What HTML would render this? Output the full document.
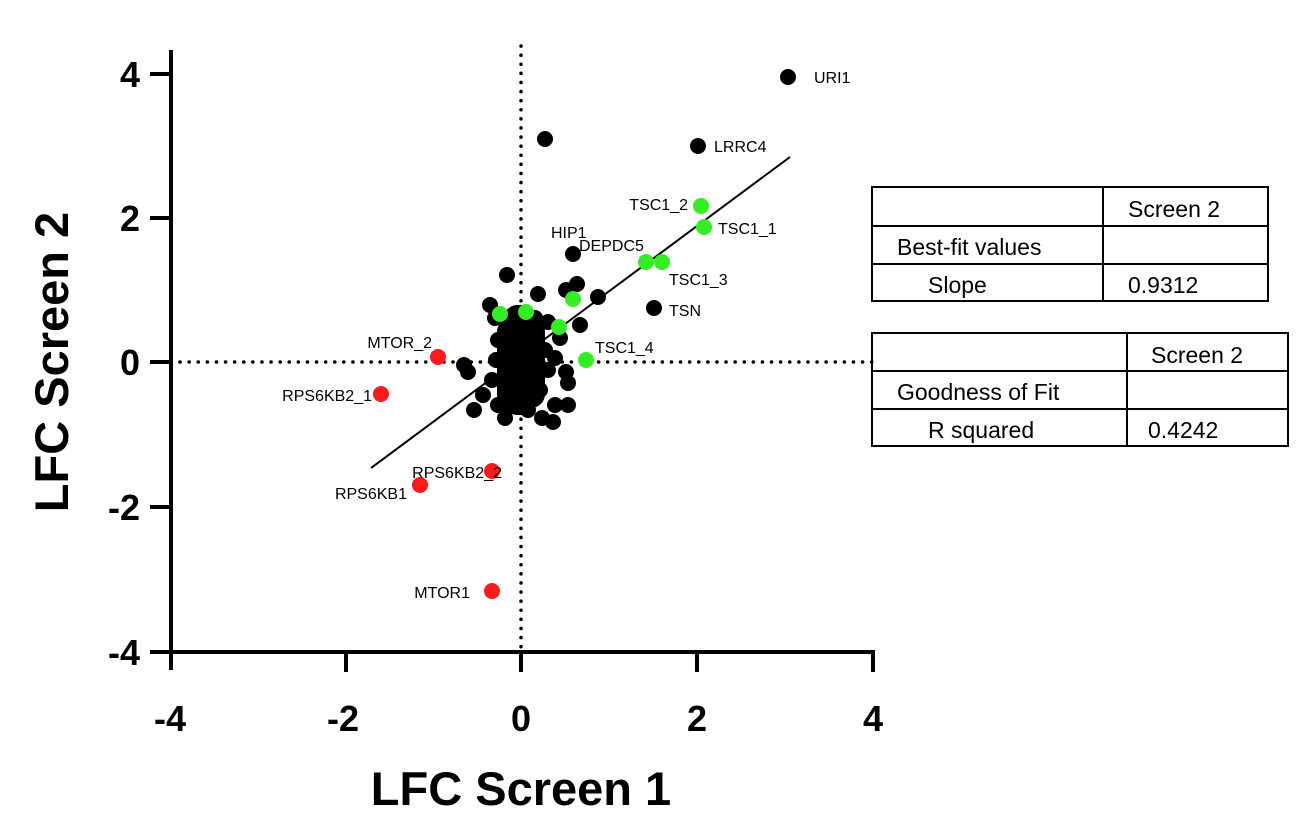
<!DOCTYPE html>
<html><head><meta charset="utf-8"><style>
html,body{margin:0;padding:0;background:#fff;}
svg{display:block;font-family:"Liberation Sans",Arial,sans-serif;}
</style></head><body>
<svg width="1296" height="838" viewBox="0 0 1296 838" xmlns="http://www.w3.org/2000/svg">
<rect width="1296" height="838" fill="#fff"/>
<line x1="521" y1="46" x2="521" y2="650" stroke="#000" stroke-width="3.5" stroke-dasharray="0.1 9" stroke-linecap="round"/>
<line x1="180" y1="362" x2="872" y2="362" stroke="#000" stroke-width="3.5" stroke-dasharray="0.1 9" stroke-linecap="round"/>
<g stroke="#000" stroke-width="4">
<line x1="171" y1="50" x2="171" y2="670"/>
<line x1="150" y1="652" x2="875" y2="652"/>
<line x1="150" y1="74" x2="171" y2="74"/>
<line x1="150" y1="218" x2="171" y2="218"/>
<line x1="150" y1="362" x2="171" y2="362"/>
<line x1="150" y1="507" x2="171" y2="507"/>
<line x1="346" y1="652" x2="346" y2="672"/>
<line x1="521" y1="652" x2="521" y2="672"/>
<line x1="697" y1="652" x2="697" y2="672"/>
<line x1="873" y1="652" x2="873" y2="672"/>
</g>
<g font-size="36" font-weight="bold" text-anchor="end">
<text x="140" y="87">4</text>
<text x="140" y="231">2</text>
<text x="140" y="375">0</text>
<text x="140" y="520">-2</text>
<text x="140" y="665">-4</text>
</g>
<g font-size="36" font-weight="bold" text-anchor="middle">
<text x="170" y="731">-4</text>
<text x="343" y="731">-2</text>
<text x="521" y="731">0</text>
<text x="697" y="731">2</text>
<text x="873" y="731">4</text>
</g>
<text x="521" y="805" font-size="47" font-weight="bold" text-anchor="middle">LFC Screen 1</text>
<text transform="translate(68,362) rotate(-90)" font-size="47" font-weight="bold" text-anchor="middle">LFC Screen 2</text>
<line x1="371" y1="468" x2="790" y2="157" stroke="#000" stroke-width="2"/>
<g fill="#000">
<circle cx="545" cy="139" r="8"/><circle cx="788" cy="77" r="8"/><circle cx="698" cy="146" r="8"/>
<circle cx="573" cy="254" r="8"/><circle cx="577" cy="284" r="8"/><circle cx="566" cy="290" r="8"/>
<circle cx="598" cy="297" r="8"/><circle cx="538" cy="294" r="8"/><circle cx="507" cy="275" r="8"/>
<circle cx="654" cy="308" r="8"/><circle cx="580" cy="325" r="8"/><circle cx="490" cy="305" r="8"/>
<circle cx="560" cy="338" r="8"/><circle cx="464" cy="365" r="8"/><circle cx="468" cy="372" r="8"/>
<circle cx="474" cy="410" r="8"/><circle cx="483" cy="395" r="8"/><circle cx="492" cy="380" r="8"/>
<circle cx="566" cy="372" r="8"/><circle cx="568" cy="383" r="8"/><circle cx="555" cy="405" r="8"/>
<circle cx="568" cy="405" r="8"/><circle cx="542" cy="418" r="8"/><circle cx="553" cy="422" r="8"/>
<circle cx="505" cy="418" r="8"/><circle cx="498" cy="405" r="8"/><circle cx="548" cy="322" r="8"/>
<circle cx="495" cy="318" r="8"/><circle cx="513" cy="315" r="8"/><circle cx="535" cy="318" r="8"/>
<circle cx="525" cy="330" r="8"/><circle cx="545" cy="350" r="8"/><circle cx="548" cy="370" r="8"/>
<circle cx="540" cy="390" r="8"/><circle cx="498" cy="340" r="8"/><circle cx="496" cy="360" r="8"/>
<circle cx="520" cy="400" r="8"/><circle cx="528" cy="410" r="8"/><circle cx="510" cy="405" r="8"/>
<circle cx="532" cy="345" r="8"/><circle cx="555" cy="358" r="8"/><circle cx="535" cy="370" r="8"/>
<rect x="497" y="318" width="48" height="90" rx="14"/>
<rect x="505" y="305" width="30" height="110" rx="12"/>
</g>
<g fill="#ff1a1a">
<circle cx="438" cy="357" r="8"/><circle cx="381" cy="394" r="8"/><circle cx="492" cy="471" r="8"/>
<circle cx="420" cy="485" r="8"/><circle cx="492" cy="591" r="8"/>
</g>
<g fill="#33ee22">
<circle cx="701" cy="206" r="8"/><circle cx="704" cy="227" r="8"/><circle cx="646" cy="262" r="8"/>
<circle cx="662" cy="262" r="8"/><circle cx="573" cy="299" r="8"/><circle cx="586" cy="360" r="8"/>
<circle cx="500" cy="314" r="8"/><circle cx="526" cy="312" r="8"/><circle cx="559" cy="327" r="8"/>
</g>
<g font-size="16">
<text x="814" y="83">URI1</text>
<text x="714" y="152">LRRC4</text>
<text x="688" y="210" text-anchor="end">TSC1_2</text>
<text x="718" y="234">TSC1_1</text>
<text x="551" y="238">HIP1</text>
<text x="579" y="251">DEPDC5</text>
<text x="669" y="285">TSC1_3</text>
<text x="669" y="316">TSN</text>
<text x="595" y="353">TSC1_4</text>
<text x="432" y="348" text-anchor="end">MTOR_2</text>
<text x="372" y="401" text-anchor="end">RPS6KB2_1</text>
<text x="502" y="478" text-anchor="end">RPS6KB2_2</text>
<text x="407" y="499" text-anchor="end">RPS6KB1</text>
<text x="470" y="598" text-anchor="end">MTOR1</text>
</g>
<g fill="none" stroke="#000" stroke-width="2">
<rect x="872" y="187" width="396" height="114"/>
<line x1="872" y1="226" x2="1268" y2="226"/><line x1="872" y1="264" x2="1268" y2="264"/>
<line x1="1103" y1="187" x2="1103" y2="301"/>
<rect x="872" y="333" width="416" height="113"/>
<line x1="872" y1="371" x2="1288" y2="371"/><line x1="872" y1="409" x2="1288" y2="409"/>
<line x1="1127" y1="333" x2="1127" y2="446"/>
</g>
<g font-size="23">
<text x="1128" y="217">Screen 2</text>
<text x="897" y="255">Best-fit values</text>
<text x="928" y="293">Slope</text>
<text x="1128" y="293">0.9312</text>
<text x="1151" y="363">Screen 2</text>
<text x="897" y="400">Goodness of Fit</text>
<text x="928" y="438">R squared</text>
<text x="1148" y="438">0.4242</text>
</g>
</svg>
</body></html>
